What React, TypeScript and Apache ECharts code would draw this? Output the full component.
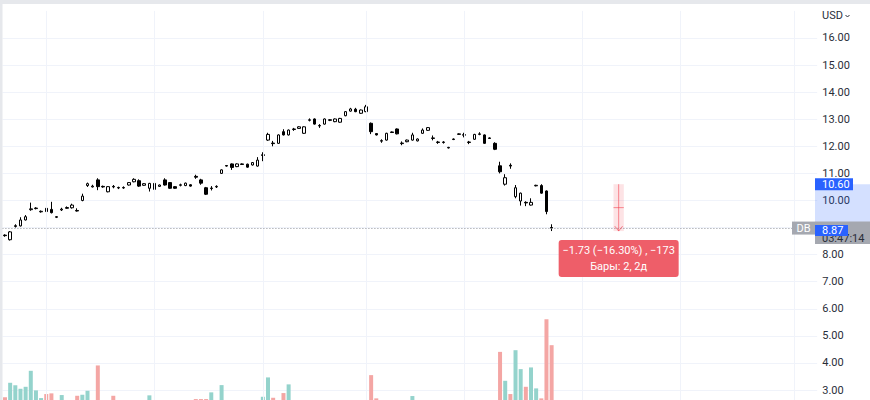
import React, { useEffect, useRef } from 'react';
import * as echarts from 'echarts';

// ---- data (daily candles, oldest first) ----
const opens = [
  8.72, 8.55, 9.04, 9.06, 9.28, 9.66, 9.70, 9.58, 9.71, 9.67, 9.40, 9.65, 9.71, 9.73, 9.63, 10.00, 10.55, 10.50, 10.76, 10.52,
  10.32, 10.52, 10.46, 10.46, 10.57, 10.69, 10.73, 10.56, 10.45, 10.63, 10.52, 10.76, 10.66, 10.51, 10.56, 10.55, 10.58, 10.89, 10.76, 10.47,
  10.44, 10.50, 11.00, 11.29, 11.35, 11.25, 11.35, 11.34, 11.31, 11.27, 11.66, 12.23, 12.12, 12.11, 12.54, 12.42, 12.62, 12.66, 12.48, 12.96,
  13.01, 12.75, 12.82, 12.98, 12.91, 12.89, 13.13, 13.30, 13.37, 13.22, 13.28, 12.85, 12.47, 12.19, 12.23, 12.53, 12.64, 12.10, 12.17, 12.23,
  12.20, 12.48, 12.59, 12.29, 12.14, 12.14, 11.94, 12.25, 12.44, 12.41, 12.14, 12.26, 12.44, 12.42, 12.31, 12.11, 11.28, 10.60, 11.30, 10.14,
  9.98, 9.93, 9.83, 10.54, 10.55, 10.35, 9.00,
];
const closes = [
  8.70, 8.84, 9.07, 9.28, 9.40, 9.69, 9.72, 9.60, 9.59, 9.55, 9.38, 9.68, 9.74, 9.83, 9.61, 10.16, 10.62, 10.53, 10.51, 10.50,
  10.51, 10.50, 10.48, 10.48, 10.66, 10.78, 10.53, 10.62, 10.63, 10.41, 10.57, 10.57, 10.45, 10.45, 10.58, 10.64, 10.53, 10.86, 10.64, 10.23,
  10.46, 10.52, 11.13, 11.27, 11.22, 11.35, 11.33, 11.23, 11.40, 11.49, 11.69, 12.44, 12.10, 12.42, 12.42, 12.60, 12.64, 12.72, 12.72, 12.98,
  12.82, 12.77, 13.01, 12.96, 13.01, 13.03, 13.28, 13.38, 13.28, 13.34, 13.46, 12.54, 12.42, 12.21, 12.48, 12.51, 12.46, 12.12, 12.23, 12.42,
  12.27, 12.60, 12.69, 12.31, 12.16, 12.16, 11.96, 12.27, 12.46, 12.43, 12.16, 12.44, 12.46, 12.11, 12.29, 11.89, 11.06, 10.84, 11.27, 10.47,
  10.27, 9.91, 9.93, 10.56, 10.27, 9.59, 8.98,
];
const lows = [
  8.66, 8.52, 9.00, 9.04, 9.26, 9.62, 9.67, 9.55, 9.57, 9.52, 9.35, 9.61, 9.69, 9.70, 9.59, 9.97, 10.50, 10.48, 10.38, 10.47,
  10.30, 10.45, 10.42, 10.43, 10.55, 10.67, 10.50, 10.54, 10.33, 10.33, 10.50, 10.55, 10.43, 10.43, 10.52, 10.53, 10.51, 10.80, 10.58, 10.20,
  10.37, 10.46, 10.98, 11.25, 11.13, 11.23, 11.31, 11.21, 11.29, 11.25, 11.45, 12.20, 12.00, 12.09, 12.40, 12.40, 12.57, 12.64, 12.46, 12.92,
  12.80, 12.68, 12.80, 12.93, 12.89, 12.87, 13.11, 13.28, 13.26, 13.20, 13.26, 12.45, 12.40, 12.13, 12.21, 12.49, 12.44, 12.04, 12.15, 12.21,
  12.18, 12.46, 12.57, 12.22, 12.09, 12.10, 11.92, 12.23, 12.42, 12.33, 12.08, 12.24, 12.41, 12.09, 12.27, 11.86, 11.00, 10.55, 11.17, 10.08,
  9.81, 9.79, 9.81, 10.52, 10.25, 9.49, 8.87,
];
const highs = [
  8.75, 8.87, 9.12, 9.38, 9.46, 9.92, 9.75, 9.63, 9.74, 9.95, 9.42, 9.73, 9.78, 9.88, 9.71, 10.25, 10.66, 10.58, 10.82, 10.55,
  10.53, 10.57, 10.51, 10.52, 10.68, 10.82, 10.78, 10.64, 10.65, 10.65, 10.59, 10.82, 10.68, 10.53, 10.62, 10.66, 10.60, 10.95, 10.80, 10.50,
  10.53, 10.56, 11.15, 11.31, 11.37, 11.37, 11.37, 11.36, 11.42, 11.60, 11.78, 12.50, 12.20, 12.44, 12.63, 12.62, 12.68, 12.74, 12.74, 13.03,
  13.03, 12.82, 13.03, 13.00, 13.03, 13.05, 13.30, 13.42, 13.42, 13.36, 13.53, 12.88, 12.49, 12.26, 12.50, 12.55, 12.66, 12.18, 12.25, 12.50,
  12.29, 12.66, 12.71, 12.40, 12.20, 12.19, 11.98, 12.29, 12.48, 12.50, 12.20, 12.46, 12.52, 12.44, 12.33, 12.15, 11.43, 10.97, 11.37, 10.57,
  10.29, 9.97, 10.08, 10.58, 10.60, 10.37, 9.12,
];
// volume, millions of shares
const volumes = [
  4.57, 7.94, 7.34, 6.55, 7.01, 10.71, 6.18, 4.40, 5.33, 5.49, 3.0, 5.10, 3.2, 3.5, 4.93, 5.17, 6.09, 3.3, 11.95, 3.1,
  3.6, 4.93, 2.8, 2.9, 3.4, 3.3, 3.5, 3.0, 5.03, 3.2, 2.7, 3.4, 3.6, 2.6, 3.1, 3.3, 3.8, 4.17, 4.17, 4.17,
  5.72, 3.7, 7.40, 3.2, 3.5, 3.0, 2.8, 3.3, 3.1, 3.6, 4.70, 9.18, 4.47, 3.8, 5.56, 7.57, 3.4, 3.0, 3.5, 3.2,
  3.6, 3.3, 3.7, 2.9, 3.1, 3.4, 3.6, 3.2, 3.3, 3.5, 3.7, 9.71, 4.33, 3.5, 3.6, 3.0, 3.7, 3.2, 3.4, 4.87,
  3.1, 3.5, 3.3, 3.2, 3.0, 2.9, 3.1, 2.8, 3.3, 3.4, 3.2, 3.6, 3.1, 3.8, 3.0, 3.8, 15.09, 8.40, 5.33, 15.48,
  11.10, 7.01, 11.49, 6.64, 4.33, 22.64, 16.64,
];

const TOTAL_SLOTS = 158; // bars plus empty right margin
const START_DATE = '2023-01-03';
const gridLineSlots = [8, 29, 50, 70, 89, 112, 131, 153];
const PRICE_MIN = 2;
const PRICE_MAX = 17;
const PRICE_STEP = 1;
const LABEL_MIN = 3;
const LABEL_MAX = 16;
const VOLUME_MAX = 94;

const CURRENCY = 'USD';
const SYMBOL = 'DB';
const LAST_PRICE = 8.98;
const COUNTDOWN = '03:47:14';
const measureFrom = { slot: 118, price: 10.6, text: '10.60' };
const measureTo = { slot: 120, price: 8.87, text: '8.87' };
const measureLines = ['\u22121.73 (\u221216.30%) , \u2212173', 'Бары: 2, 2д'];

// category labels (trading days)
const categories: string[] = (() => {
  const out: string[] = [];
  const d = new Date(START_DATE + 'T00:00:00Z');
  while (out.length < TOTAL_SLOTS) {
    const wd = d.getUTCDay();
    if (wd !== 0 && wd !== 6) out.push(d.toISOString().slice(0, 10));
    d.setUTCDate(d.getUTCDate() + 1);
  }
  return out;
})();

const FONT = 'Roboto, "Liberation Sans", Arial, sans-serif';
const UP_VOL = '#94d3cc';
const DOWN_VOL = '#f4a6a4';
const GRID = '#f0f3fa';
const AXIS_X = 815;
const WIDTH = 870;
const VIEW_H = 400;
const CHART_H = 418; // chart extends below the visible window (volume pane base is cut off)

export default function App() {
  const ref = useRef<HTMLDivElement>(null);

  useEffect(() => {
    if (!ref.current) return;
    const chart = echarts.init(ref.current, undefined, { renderer: 'svg' });

    const candleData = opens.map((o, i) => [o, closes[i], lows[i], highs[i]]);
    const volData = volumes.map((v, i) => ({
      value: v,
      itemStyle: { color: closes[i] >= opens[i] ? UP_VOL : DOWN_VOL },
    }));

    const option: any = {
      animation: false,
      grid: { left: 2.42, right: 52.8, top: 10.92, bottom: 0.92, containLabel: false },
      xAxis: {
        type: 'category',
        data: categories,
        boundaryGap: true,
        show: false,
      },
      yAxis: [
        {
          type: 'value',
          position: 'right',
          min: PRICE_MIN,
          max: PRICE_MAX,
          interval: PRICE_STEP,
          axisLine: { show: false },
          axisTick: { show: false },
          axisLabel: {
            margin: 5,
            fontSize: 11,
            fontFamily: FONT,
            color: '#2a2e39',
            formatter: (v: number) => (v >= LABEL_MIN && v <= LABEL_MAX ? v.toFixed(2) : ''),
          },
          splitLine: { show: true, showMaxLine: false, showMinLine: false, lineStyle: { color: GRID, width: 1 } },
        },
        { type: 'value', min: 0, max: VOLUME_MAX, show: false, splitLine: { show: false } },
      ],
      series: [
        {
          type: 'bar',
          name: 'Volume',
          xAxisIndex: 0,
          yAxisIndex: 1,
          barWidth: 4,
          data: volData,
          z: 1,
          silent: true,
          markLine: {
            silent: true,
            symbol: ['none', 'none'],
            label: { show: false },
            lineStyle: { color: GRID, width: 1, type: 'solid' },
            data: gridLineSlots.map((i) => ({ xAxis: categories[i] })),
          },
        },
        {
          type: 'candlestick',
          name: SYMBOL,
          xAxisIndex: 0,
          yAxisIndex: 0,
          barWidth: 3,
          data: candleData,
          z: 3,
          itemStyle: {
            color: '#ffffff',
            color0: '#000000',
            borderColor: '#000000',
            borderColor0: '#000000',
            borderWidth: 1,
          },
          markLine: {
            silent: true,
            symbol: ['none', 'none'],
            label: { show: false },
            lineStyle: { color: '#8f929a', width: 1, type: [1, 2] },
            data: [{ yAxis: LAST_PRICE }],
          },
        },
        {
          type: 'custom',
          xAxisIndex: 0,
          yAxisIndex: 0,
          z: 10,
          silent: true,
          clip: false,
          data: [[measureFrom.slot, measureTo.slot, measureFrom.price, measureTo.price]],
          encode: { x: [0, 1], y: [2, 3] },
          renderItem: (params: any, api: any) => {
            const s = api.value(0);
            const e = api.value(1);
            const hi = api.value(2);
            const lo = api.value(3);
            const [x1, yHi] = api.coord([s, hi]);
            const [x2, yLo] = api.coord([e, lo]);
            const yLast = api.coord([s, LAST_PRICE])[1];
            const xm = (x1 + x2) / 2;
            const ym = (yHi + yLo) / 2;
            const red = 'rgba(242,54,69,0.55)';
            const txt = (text: string, x: number, y: number, fill: string, align = 'left', size = 11) => ({
              type: 'text',
              style: {
                text,
                x,
                y,
                fill,
                fontSize: size,
                fontFamily: FONT,
                textAlign: align,
                textVerticalAlign: 'middle',
              },
            });
            return {
              type: 'group',
              children: [
                // axis range shading
                { type: 'rect', shape: { x: AXIS_X, y: yHi, width: WIDTH - AXIS_X, height: yLo - yHi }, style: { fill: 'rgba(41,98,255,0.2)' } },
                // last price label (gray) with countdown
                { type: 'rect', shape: { x: AXIS_X, y: yLast - 6.5, width: WIDTH - AXIS_X, height: 22.5 }, style: { fill: '#a5a8b0' } },
                txt(COUNTDOWN, AXIS_X + 7, yLast + 10, '#2a2e39'),
                // symbol name label
                { type: 'rect', shape: { x: AXIS_X - 23, y: yLast - 6.5, width: 23, height: 13 }, style: { fill: '#a5a8b0' } },
                txt(SYMBOL, AXIS_X - 11.5, yLast, '#ffffff', 'center'),
                // measure price labels
                { type: 'rect', shape: { x: AXIS_X, y: yHi - 6, width: 38, height: 12 }, style: { fill: '#2962ff' } },
                txt(measureFrom.text, AXIS_X + 7, yHi, '#ffffff'),
                { type: 'rect', shape: { x: AXIS_X, y: yLo - 6, width: 33, height: 11 }, style: { fill: '#2962ff' } },
                txt(measureTo.text, AXIS_X + 7, yLo - 0.5, '#ffffff'),
                // measure band
                { type: 'rect', shape: { x: x1, y: yHi, width: x2 - x1, height: yLo - yHi }, style: { fill: 'rgba(242,54,69,0.14)' } },
                { type: 'line', shape: { x1: xm, y1: yHi, x2: xm, y2: yLo }, style: { stroke: red, lineWidth: 1 } },
                { type: 'line', shape: { x1: x1, y1: ym, x2: x2, y2: ym }, style: { stroke: red, lineWidth: 1 } },
                { type: 'polyline', shape: { points: [[xm - 4, yLo - 5], [xm, yLo], [xm + 4, yLo - 5]] }, style: { stroke: red, lineWidth: 1, fill: 'none' } },
                // measure info box
                { type: 'rect', shape: { x: xm - 60, y: yLo + 9, width: 120, height: 37, r: 3 }, style: { fill: '#ee5e69' } },
                txt(measureLines[0], xm, yLo + 19.5, '#ffffff', 'center'),
                txt(measureLines[1], xm, yLo + 35.5, '#ffffff', 'center'),
              ],
            };
          },
        },
      ],
      graphic: [
        { type: 'rect', left: 0, top: 0, shape: { x: 0, y: 0, width: WIDTH, height: 4 }, style: { fill: '#e6e8ec' }, z: 100 },
        { type: 'rect', left: 0, top: 0, shape: { x: 0, y: 0, width: 2.5, height: VIEW_H }, style: { fill: '#e6e8ec' }, z: 100 },
        {
          type: 'text',
          left: 822,
          top: 10,
          style: { text: CURRENCY, fill: '#2a2e39', fontSize: 11, fontFamily: FONT },
          z: 100,
        },
        {
          type: 'polyline',
          shape: { points: [[845.5, 15], [847.5, 17], [849.5, 15]] },
          style: { stroke: '#2a2e39', lineWidth: 1, fill: 'none' },
          z: 100,
        },
      ],
    };

    chart.setOption(option);
    return () => chart.dispose();
  }, []);

  return (
    <div style={{ position: 'absolute', left: 0, top: 0, width: WIDTH, height: VIEW_H, overflow: 'hidden', background: '#ffffff' }}>
      <div ref={ref} style={{ width: WIDTH, height: CHART_H }} />
    </div>
  );
}
